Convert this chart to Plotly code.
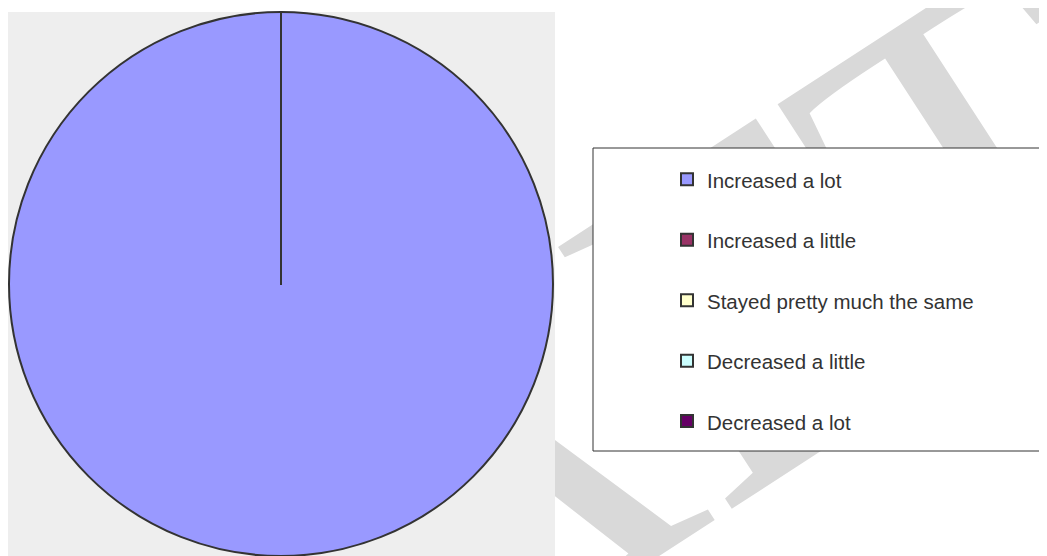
import plotly.graph_objects as go

categories = ["Increased a lot", "Increased a little", "Stayed pretty much the same",
              "Decreased a little", "Decreased a lot"]
values = [100, 0, 0, 0, 0]
colors = ["#9999FF", "#993366", "#FFFFCC", "#CCFFFF", "#660066"]
watermark = "DRAFT"

# the page adds an 8px body margin, so the figure is 8px smaller than the window
W, H = 1039, 548

# legend rows are spaced wide, so each label gets an empty second line
legend_labels = ["<span style='font-size:20.5px'>%s</span><br> " % c for c in categories]

fig = go.Figure()
fig.add_trace(go.Pie(
    labels=legend_labels,
    values=values,
    customdata=categories,
    marker=dict(colors=colors, line=dict(color="#333333", width=2)),
    sort=False,
    direction="clockwise",
    rotation=0,
    textinfo="none",
    hovertemplate="%{customdata}: %{percent}<extra></extra>",
    domain=dict(x=[1 / W, 545 / W], y=[0, 1 - 4 / H]),
))

# watermark behind everything, then the grey plot area, then the legend box
fig.add_shape(type="rect", xref="paper", yref="paper",
              x0=402 / W, x1=404 / W, y0=1 - 455 / H, y1=1 - 453 / H,
              line=dict(width=0), fillcolor="rgba(0,0,0,0)", layer="below",
              label=dict(text=watermark, textangle=-33, textposition="middle center",
                         font=dict(family="Liberation Serif, Times New Roman, serif",
                                   size=480, color="#D9D9D9")))
fig.add_shape(type="rect", xref="paper", yref="paper",
              x0=-2 / W, x1=547 / W, y0=-0.01, y1=1 - 4 / H,
              line=dict(width=0), fillcolor="#EEEEEE", layer="below")
fig.add_shape(type="rect", xref="paper", yref="paper",
              x0=585 / W, x1=1.01, y0=1 - 443 / H, y1=1 - 140 / H,
              line=dict(color="#333333", width=1), fillcolor="white", layer="below")

fig.update_layout(
    width=W, height=H,
    margin=dict(l=0, r=0, t=0, b=0),
    paper_bgcolor="white",
    showlegend=True,
    legend=dict(x=659 / W, xanchor="left", y=1 - 150.4 / H, yanchor="top",
                bgcolor="rgba(0,0,0,0)", borderwidth=0, valign="top",
                font=dict(family="Liberation Sans, Arial, sans-serif", size=22.1,
                          color="#333333")),
)

fig.write_html("out.html")
